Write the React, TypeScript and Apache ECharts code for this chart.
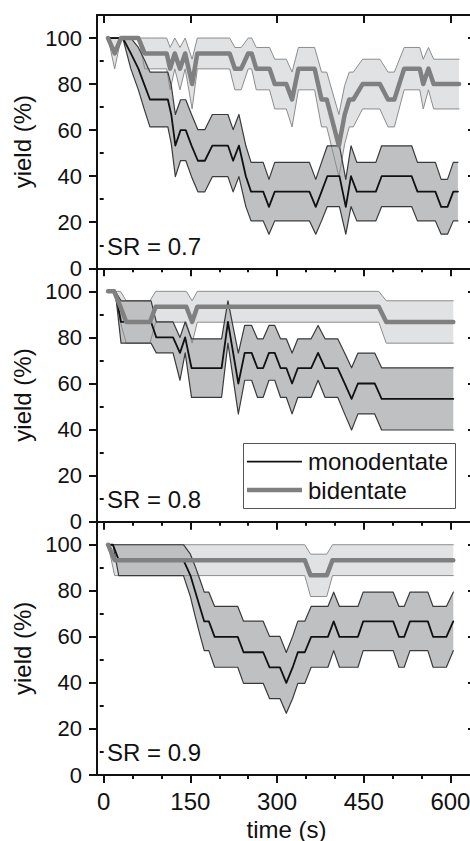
import React, { useEffect, useRef } from "react";
import * as echarts from "echarts";

const FONT = '"Liberation Sans", Arial, Helvetica, sans-serif';

// axis ticks / labels
const xMajorTicks = [0, 150, 300, 450, 600];
const xMinorTicks = [50, 100, 200, 250, 350, 400, 500, 550];
const yMajorTicks = [0, 20, 40, 60, 80, 100];
const yMinorTicks = [10, 30, 50, 70, 90];
const panelLabels = ["SR = 0.7", "SR = 0.8", "SR = 0.9"];
const legendNames = ["monodentate", "bidentate"];

// ---------- SR = 0.7 ----------
const p1MonoT = [7.5, 33, 47, 60, 70, 80, 111, 117, 124, 133, 142, 152, 163, 175, 188, 215, 224, 234, 246, 255, 276, 286, 296, 356, 367, 377, 387, 408, 419, 428, 438, 471, 481, 533, 543, 574, 584, 595, 605, 613];
const p1MonoMean = [100, 100, 93.3, 86.7, 80, 73.3, 73.3, 66.7, 53.3, 60, 60, 53.3, 46.7, 46.7, 53.3, 53.3, 46.7, 53.3, 40, 33.3, 33.3, 26.7, 33.3, 33.3, 26.7, 33.3, 40, 40, 26.7, 40, 33.3, 33.3, 40, 40, 33.3, 33.3, 26.7, 26.7, 33.3, 33.3];
const p1MonoUp = [100, 100, 100, 95.9, 90.8, 85.2, 85.2, 79.4, 66.8, 73.2, 73.2, 66.8, 60.2, 60.2, 66.8, 66.8, 60.2, 66.8, 53.2, 46, 46, 38.6, 46, 46, 38.6, 46, 53.2, 53.2, 38.6, 53.2, 46, 46, 53.2, 53.2, 46, 46, 38.6, 38.6, 46, 46];
const p1MonoLo = [100, 100, 86.6, 77.5, 69.2, 61.4, 61.4, 54, 39.8, 46.8, 46.8, 39.8, 33.2, 33.2, 39.8, 39.8, 33.2, 39.8, 26.8, 20.6, 20.6, 14.8, 20.6, 20.6, 14.8, 20.6, 26.8, 26.8, 14.8, 26.8, 20.6, 20.6, 26.8, 26.8, 20.6, 20.6, 14.8, 14.8, 20.6, 20.6];

const p1BiT = [7.5, 19, 30, 60, 71, 109, 115, 123, 132, 141, 153, 162, 218, 227, 238, 250, 256, 264, 287, 296, 316, 326, 337, 365, 377, 386, 407, 417, 425, 432, 448, 478, 492, 503, 520, 547, 553, 562, 571, 615];
const p1BiMean = [100, 93.3, 100, 100, 93.3, 93.3, 86.7, 93.3, 86.7, 93.3, 80, 93.3, 93.3, 86.7, 86.7, 93.3, 93.3, 86.7, 86.7, 80, 80, 73.3, 86.7, 86.7, 73.3, 73.3, 53.3, 66.7, 73.3, 73.3, 80, 80, 73.3, 73.3, 86.7, 86.7, 80, 86.7, 80, 80];
const p1BiUp = [100, 100, 100, 100, 100, 100, 95.9, 100, 95.9, 100, 90.8, 100, 100, 95.9, 95.9, 100, 100, 95.9, 95.9, 90.8, 90.8, 85.2, 95.9, 95.9, 85.2, 85.2, 66.8, 79.4, 85.2, 85.2, 90.8, 90.8, 85.2, 85.2, 95.9, 95.9, 90.8, 95.9, 90.8, 90.8];
const p1BiLo = [100, 86.6, 100, 100, 86.6, 86.6, 77.5, 86.6, 77.5, 86.6, 69.2, 86.6, 86.6, 77.5, 77.5, 86.6, 86.6, 77.5, 77.5, 69.2, 69.2, 61.4, 77.5, 77.5, 61.4, 61.4, 39.8, 54, 61.4, 61.4, 69.2, 69.2, 61.4, 61.4, 77.5, 77.5, 69.2, 77.5, 69.2, 69.2];

// ---------- SR = 0.8 ----------
const p2MonoT = [7.5, 20, 30, 82, 91, 120, 132, 141, 152, 204, 215, 233, 244, 256, 266, 276, 286, 296, 306, 316, 326, 336, 359, 371, 383, 405, 417, 429, 440, 469, 481, 605];
const p2MonoMean = [100, 100, 86.7, 86.7, 80, 80, 73.3, 80, 66.7, 66.7, 86.7, 60, 73.3, 73.3, 66.7, 66.7, 73.3, 73.3, 66.7, 66.7, 60, 66.7, 66.7, 73.3, 66.7, 66.7, 60, 53.3, 60, 60, 53.3, 53.3];
const p2MonoUp = [100, 100, 95.9, 95.9, 86.7, 86.7, 80, 86.7, 79.4, 79.4, 95.9, 73.2, 85.2, 85.2, 79.4, 79.4, 85.2, 85.2, 79.4, 79.4, 73.2, 79.4, 79.4, 85.2, 79.4, 79.4, 73.2, 66.8, 73.2, 73.2, 66.8, 66.8];
const p2MonoLo = [100, 100, 77.5, 77.5, 73.3, 73.3, 61.4, 73.3, 54, 54, 77.5, 46.8, 61.4, 61.4, 54, 54, 61.4, 61.4, 54, 54, 46.8, 54, 54, 61.4, 54, 54, 46.8, 39.8, 46.8, 46.8, 39.8, 39.8];

const p2BiT = [7.5, 18, 29, 39, 80, 90, 143, 153, 162, 476, 489, 605];
const p2BiMean = [100, 100, 93.3, 86.7, 86.7, 93.3, 93.3, 86.7, 93.3, 93.3, 86.7, 86.7];
const p2BiUp = [100, 100, 100, 95.9, 95.9, 100, 100, 95.9, 100, 100, 95.9, 95.9];
const p2BiLo = [100, 100, 86.6, 77.5, 77.5, 86.6, 86.6, 77.5, 86.6, 86.6, 77.5, 77.5];

// ---------- SR = 0.9 ----------
const p3MonoT = [7.5, 16, 26, 138, 150, 158, 166, 174, 182, 192, 232, 242, 276, 287, 305, 316, 327, 336, 348, 359, 388, 398, 408, 440, 449, 501, 511, 520, 530, 561, 570, 593, 605];
const p3MonoMean = [100, 100, 93.3, 93.3, 86.7, 80, 73.3, 66.7, 66.7, 60, 60, 53.3, 53.3, 46.7, 46.7, 40, 46.7, 53.3, 53.3, 60, 60, 66.7, 60, 60, 66.7, 66.7, 60, 60, 66.7, 66.7, 60, 60, 66.7];
const p3MonoUp = [100, 100, 100, 100, 95.9, 90.8, 85.2, 79.4, 79.4, 73.2, 73.2, 66.8, 66.8, 60.2, 60.2, 53.2, 60.2, 66.8, 66.8, 73.2, 73.2, 79.4, 73.2, 73.2, 79.4, 79.4, 73.2, 73.2, 79.4, 79.4, 73.2, 73.2, 79.4];
const p3MonoLo = [100, 100, 86.6, 86.6, 77.5, 69.2, 61.4, 54, 54, 46.8, 46.8, 39.8, 39.8, 33.2, 33.2, 26.8, 33.2, 39.8, 39.8, 46.8, 46.8, 54, 46.8, 46.8, 54, 54, 46.8, 46.8, 54, 54, 46.8, 46.8, 54];

const p3BiT = [7.5, 19, 348, 358, 386, 396, 605];
const p3BiMean = [100, 93.3, 93.3, 86.7, 86.7, 93.3, 93.3];
const p3BiUp = [100, 100, 100, 95.9, 95.9, 100, 100];
const p3BiLo = [100, 86.6, 86.6, 77.5, 77.5, 86.6, 86.6];

const panels = [
  { mono: [p1MonoT, p1MonoMean, p1MonoUp, p1MonoLo], bi: [p1BiT, p1BiMean, p1BiUp, p1BiLo] },
  { mono: [p2MonoT, p2MonoMean, p2MonoUp, p2MonoLo], bi: [p2BiT, p2BiMean, p2BiUp, p2BiLo] },
  { mono: [p3MonoT, p3MonoMean, p3MonoUp, p3MonoLo], bi: [p3BiT, p3BiMean, p3BiUp, p3BiLo] },
];

const XMIN = -11.6;
const XMAX = 644.3;
const YMIN = 0;
const YMAX = 110;

const INK = "#111111";
const MONO_FILL = "#bfc0c2";
const BI_FILL = "#e1e2e3";
const MONO_EDGE = "#3a3a3a";
const BI_EDGE = "#8c8c8c";
const MONO_LINE = "#111111";
const BI_LINE = "#808080";

function pairs(t: number[], v: number[]) {
  return t.map((x, i) => [x, v[i]]);
}

function band(g: number, t: number[], up: number[], lo: number[], fill: string, z: number) {
  return {
    type: "custom",
    xAxisIndex: g * 4,
    yAxisIndex: g * 3,
    z,
    silent: true,
    clip: true,
    data: [[t[0], lo[0]]],
    renderItem: (_params: any, api: any) => {
      const pts: number[][] = [];
      for (let i = 0; i < t.length; i++) pts.push(api.coord([t[i], up[i]]));
      for (let i = t.length - 1; i >= 0; i--) pts.push(api.coord([t[i], lo[i]]));
      return { type: "polygon", shape: { points: pts }, style: { fill, stroke: "none" } };
    },
  };
}

function line(g: number, t: number[], v: number[], color: string, width: number, z: number) {
  return {
    type: "line",
    xAxisIndex: g * 4,
    yAxisIndex: g * 3,
    data: pairs(t, v),
    showSymbol: false,
    symbol: "none",
    silent: true,
    z,
    lineStyle: { color, width, join: "round", cap: "round" },
  };
}

export default function App() {
  const ref = useRef<HTMLDivElement>(null);

  useEffect(() => {
    if (!ref.current) return;
    const chart = echarts.init(ref.current, undefined, { renderer: "svg" });

    const grids = [
      { left: 97, top: 15, width: 379, height: 253.3, outerBoundsMode: "none", containLabel: false },
      { left: 97, top: 268.3, width: 379, height: 253.4, outerBoundsMode: "none", containLabel: false },
      { left: 97, top: 521.7, width: 379, height: 253.3, outerBoundsMode: "none", containLabel: false },
    ];

    const xAxes: any[] = [];
    const yAxes: any[] = [];
    const series: any[] = [];
    const axisLine = { show: true, onZero: false, lineStyle: { color: INK, width: 2 } };

    for (let g = 0; g < 3; g++) {
      const last = g === 2;
      const base = { gridIndex: g, type: "value", min: XMIN, max: XMAX, splitLine: { show: false } };
      xAxes.push({
        ...base,
        position: "bottom",
        axisLine,
        axisTick: { show: last, customValues: xMajorTicks, length: 8, lineStyle: { color: INK, width: 2 } },
        axisLabel: { show: last, customValues: xMajorTicks, fontSize: 24, margin: 14, color: INK, fontFamily: FONT },
        name: last ? "time (s)" : "",
        nameLocation: "middle",
        nameGap: 44,
        nameTextStyle: { fontSize: 24, lineHeight: 20, color: INK, fontFamily: FONT },
      });
      xAxes.push({
        ...base,
        position: "bottom",
        axisLine: { show: false },
        axisTick: { show: last, customValues: xMinorTicks, length: 4, lineStyle: { color: INK, width: 2 } },
        axisLabel: { show: false },
      });
      xAxes.push({
        ...base,
        position: "top",
        axisLine,
        axisTick: { show: true, inside: true, customValues: xMajorTicks, length: 8, lineStyle: { color: INK, width: 2 } },
        axisLabel: { show: false },
      });
      xAxes.push({
        ...base,
        position: "top",
        axisLine: { show: false },
        axisTick: { show: true, inside: true, customValues: xMinorTicks, length: 4, lineStyle: { color: INK, width: 2 } },
        axisLabel: { show: false },
      });

      const ybase = { gridIndex: g, type: "value", min: YMIN, max: YMAX, splitLine: { show: false } };
      yAxes.push({
        ...ybase,
        position: "left",
        axisLine,
        axisTick: { show: true, customValues: yMajorTicks, length: 8, lineStyle: { color: INK, width: 2 } },
        axisLabel: {
          show: true,
          customValues: yMajorTicks,
          fontSize: 22,
          lineHeight: 19,
          margin: 15,
          color: INK,
          fontFamily: FONT,
        },
        name: "yield (%)",
        nameLocation: "middle",
        nameGap: 60,
        nameTextStyle: { fontSize: 24, color: INK, fontFamily: FONT },
      });
      yAxes.push({
        ...ybase,
        position: "left",
        axisLine: { show: false },
        axisTick: { show: true, customValues: yMinorTicks, length: 4, lineStyle: { color: INK, width: 2 } },
        axisLabel: { show: false },
      });
      yAxes.push({
        ...ybase,
        position: "right",
        axisLine,
        axisTick: { show: true, inside: true, customValues: yMajorTicks, length: 8, lineStyle: { color: INK, width: 2 } },
        axisLabel: { show: false },
      });

      const p = panels[g];
      const [mt, mm, mu, ml] = p.mono;
      const [bt, bm, bu, bl] = p.bi;
      series.push(band(g, bt, bu, bl, BI_FILL, 1));
      series.push(band(g, mt, mu, ml, MONO_FILL, 2));
      series.push(line(g, bt, bu, BI_EDGE, 1, 3));
      series.push(line(g, bt, bl, BI_EDGE, 1, 3));
      series.push(line(g, mt, mu, MONO_EDGE, 1.2, 3));
      series.push(line(g, mt, ml, MONO_EDGE, 1.2, 3));
      series.push({ ...line(g, mt, mm, MONO_LINE, 1.8, 4), name: legendNames[0] });
      series.push({ ...line(g, bt, bm, BI_LINE, 4.5, 5), name: legendNames[1] });
    }

    const labelY = [246.7, 499.5, 752.5];
    const graphic: any[] = panelLabels.map((txt, i) => ({
      type: "text",
      x: 107,
      y: labelY[i],
      z: 100,
      style: { text: txt, fontSize: 24, fontFamily: FONT, fill: INK, align: "left", verticalAlign: "middle" },
    }));
    graphic.push(
      {
        type: "rect",
        z: 100,
        shape: { x: 243.5, y: 443.5, width: 212, height: 65 },
        style: { fill: "#ffffff", stroke: "#555555", lineWidth: 1 },
      },
      {
        type: "line",
        z: 101,
        shape: { x1: 247, y1: 461.7, x2: 302, y2: 461.7 },
        style: { stroke: MONO_LINE, lineWidth: 1.8 },
      },
      {
        type: "line",
        z: 101,
        shape: { x1: 247, y1: 490, x2: 302, y2: 490 },
        style: { stroke: BI_LINE, lineWidth: 4.5 },
      },
      {
        type: "text",
        z: 101,
        x: 308,
        y: 461.7,
        style: { text: legendNames[0], fontSize: 24, fontFamily: FONT, fill: INK, align: "left", verticalAlign: "middle" },
      },
      {
        type: "text",
        z: 101,
        x: 308,
        y: 490,
        style: { text: legendNames[1], fontSize: 24, fontFamily: FONT, fill: INK, align: "left", verticalAlign: "middle" },
      }
    );

    chart.setOption({
      animation: false,
      backgroundColor: "#ffffff",
      textStyle: { fontFamily: FONT, color: INK },
      grid: grids,
      xAxis: xAxes,
      yAxis: yAxes,
      series,
      graphic,
    });

    return () => chart.dispose();
  }, []);

  return <div ref={ref} style={{ position: "absolute", left: 0, top: 0, width: 470, height: 841 }} />;
}
